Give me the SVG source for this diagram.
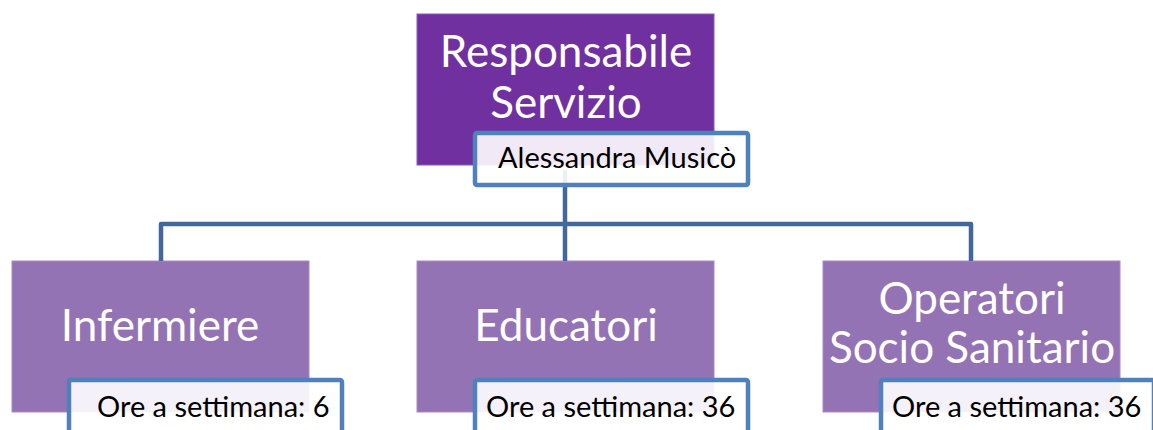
<svg xmlns="http://www.w3.org/2000/svg" width="1153" height="430" viewBox="0 0 1153 430">
<style>
.top{fill:#7030A0;stroke:#8A5AB2;stroke-width:1}
.role{fill:#9473B5;stroke:#A88CC4;stroke-width:1}
.sub{fill:#ffffff;fill-opacity:0.9;stroke:#4F81BD;stroke-width:4.5}
.big{font-family:Lato,"Open Sans",sans-serif;font-size:44px;fill:#ffffff}
.small{font-family:Lato,"Open Sans",sans-serif;font-size:29px;fill:#000000}
.conn{fill:none;stroke:#41679B;stroke-width:4.5;stroke-linejoin:round}
</style>
<rect width="1153" height="430" fill="#ffffff"/>
<g id="node-responsabile">
<rect class="top" x="417" y="14" width="297" height="151"/>
<text class="big" x="566" y="67" text-anchor="middle">Responsabile</text>
<text class="big" x="566" y="118" text-anchor="middle">Servizio</text>
</g>
<g id="node-infermiere">
<rect class="role" x="12" y="261" width="297" height="151"/>
<text class="big" x="160" y="341" text-anchor="middle">Infermiere</text>
</g>
<g id="node-educatori">
<rect class="role" x="417" y="261" width="297" height="151"/>
<text class="big" x="566" y="341" text-anchor="middle">Educatori</text>
</g>
<g id="node-operatori">
<rect class="role" x="823" y="261" width="297" height="151"/>
<text class="big" x="972" y="314" text-anchor="middle">Operatori</text>
<text class="big" x="972" y="363" text-anchor="middle">Socio Sanitario</text>
</g>
<g id="connectors">
<path class="conn" d="M565 170 V224 M161 261 V224 H971 V261 M565 224 V261"/>
</g>
<g id="label-responsabile">
<rect class="sub" x="475" y="133" width="273" height="52" rx="2"/>
<text class="small" x="498" y="168">Alessandra Musicò</text>
</g>
<g id="label-infermiere">
<rect class="sub" x="69" y="380" width="273" height="60" rx="2"/>
<text class="small" x="97" y="417">Ore a settimana: 6</text>
</g>
<g id="label-educatori">
<rect class="sub" x="475" y="380" width="273" height="60" rx="2"/>
<text class="small" x="486" y="417">Ore a settimana: 36</text>
</g>
<g id="label-operatori">
<rect class="sub" x="881" y="380" width="273" height="60" rx="2"/>
<text class="small" x="892" y="417">Ore a settimana: 36</text>
</g>
</svg>
